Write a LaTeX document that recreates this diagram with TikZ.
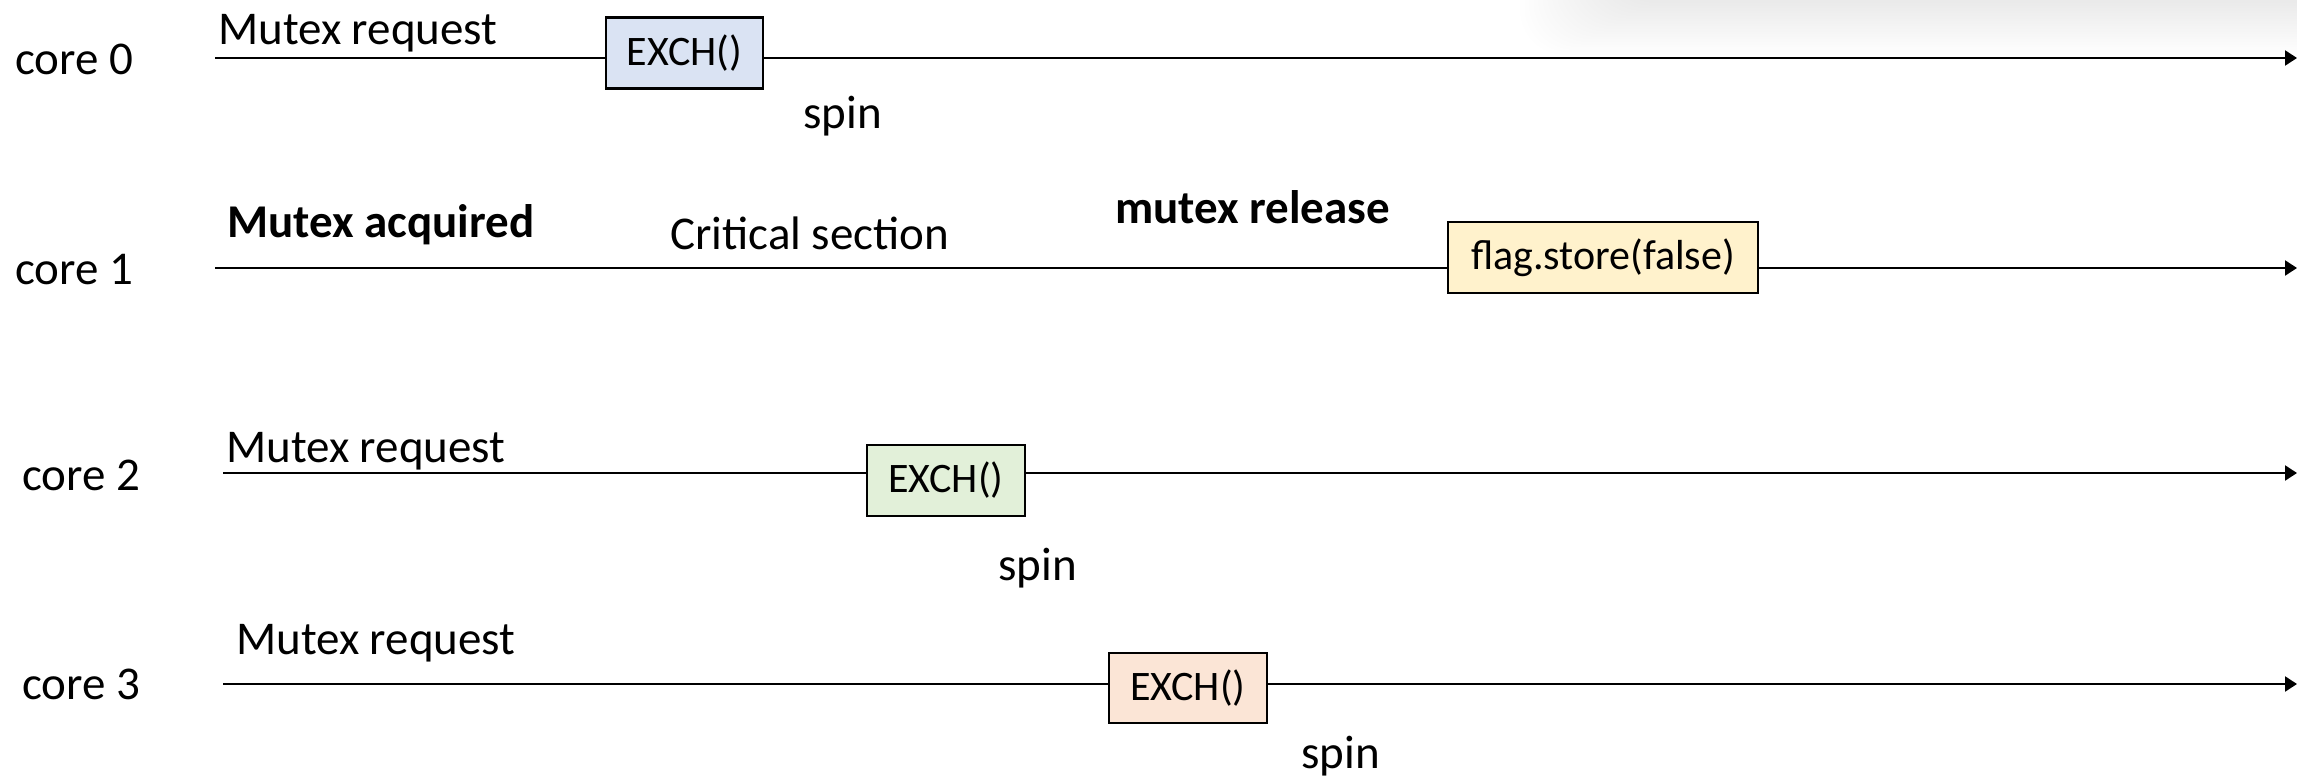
\documentclass[tikz,border=0pt]{standalone}
\usepackage{fontspec}
\setmainfont{Carlito}
\usetikzlibrary{arrows.meta}
\definecolor{cblue}{HTML}{DAE3F3}
\definecolor{cgreen}{HTML}{E2F0D9}
\definecolor{cpeach}{HTML}{FBE5D6}
\definecolor{cyellow}{HTML}{FFF2CC}
\tikzset{
  lbl/.style={anchor=west, inner sep=0pt, font=\fontsize{47}{56}\selectfont},
  blbl/.style={lbl, font=\fontsize{47}{56}\selectfont\bfseries},
  opbox/.style={draw=black, line width=2.4pt, inner sep=0pt, font=\fontsize{42}{50}\selectfont},
  tline/.style={line width=2.2pt, -{Triangle[length=12pt,width=15pt]}}
}
\begin{document}
\begin{tikzpicture}[x=1pt,y=-1pt]
\useasboundingbox (0,0) rectangle (2297,776);
% faint window shadow at the top right
\begin{scope}
\clip (0,0) rectangle (2297,776);
\foreach \i in {0,...,21}{
  \fill[black, opacity=0.0036, rounded corners=45pt]
    (1520+4.5*\i,-80) rectangle (2360,55-2.6*\i);
}
\end{scope}
% timelines
\coordinate (s0) at (215,58);  \coordinate (e0) at (2297,58);
\coordinate (s1) at (215,268); \coordinate (e1) at (2297,268);
\coordinate (s2) at (223,473); \coordinate (e2) at (2297,473);
\coordinate (s3) at (223,684); \coordinate (e3) at (2297,684);
\draw[tline] (s0) -- (e0);
\draw[tline] (s1) -- (e1);
\draw[tline] (s2) -- (e2);
\draw[tline] (s3) -- (e3);
% core labels
\node[lbl] (c0) at (15,59) {core 0};
\node[lbl] (c1) at (15,270) {core 1};
\node[lbl] (c2) at (22,475) {core 2};
\node[lbl] (c3) at (22,684) {core 3};
% row 0
\node[lbl] (r0) at (218,33) {Mutex request};
\node[opbox, fill=cblue, minimum width=157pt, minimum height=71pt] (b0) at (684.5,53) {EXCH()};
\node[lbl] (sp0) at (803,116) {spin};
% row 1
\node[blbl] (acq) at (227,225) {Mutex acquired};
\node[lbl] (crit) at (670,233) {Critical section};
\node[blbl] (rel) at (1115,207) {mutex release};
\node[opbox, fill=cyellow, minimum width=310pt, minimum height=71pt] (b1) at (1603,257.5) {flag.store(false)};
% row 2
\node[lbl] (r2) at (226,451) {Mutex request};
\node[opbox, fill=cgreen, minimum width=158pt, minimum height=71pt] (b2) at (946,480.5) {EXCH()};
\node[lbl] (sp2) at (998,568) {spin};
% row 3
\node[lbl] (r3) at (236,643) {Mutex request};
\node[opbox, fill=cpeach, minimum width=158pt, minimum height=70pt] (b3) at (1188,688) {EXCH()};
\node[lbl] (sp3) at (1301,756) {spin};
\end{tikzpicture}
\end{document}
